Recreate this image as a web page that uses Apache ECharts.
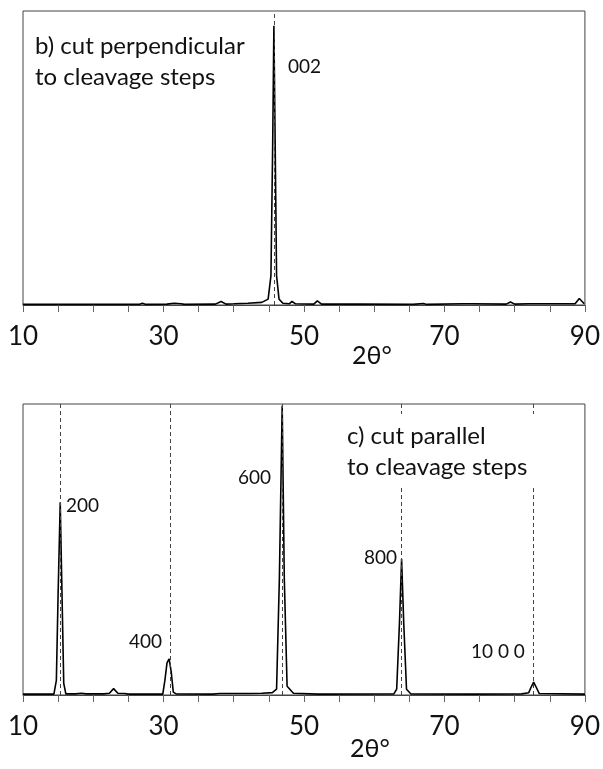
<!DOCTYPE html>
<html>
<head>
<meta charset="utf-8">
<script src="https://cdn.jsdelivr.net/npm/echarts@6/dist/echarts.min.js"></script>
<style>
  html, body { margin: 0; padding: 0; background: #fff; }
  #main { width: 603px; height: 769px; }
</style>
</head>
<body>
<div id="main"></div>
<script type="text/javascript">
// x axis ticks (2theta, degrees)
var xMin = 10;
var xMax = 90;
var tickStep = 5;
var labelStep = 20;

// b) cut perpendicular to cleavage steps  -> [2theta, relative intensity]
var topSpectrum = [
  [10, 0.002], [26.5, 0.002], [27, 0.006], [27.5, 0.002], [30.5, 0.003], [31.5, 0.006],
  [32.5, 0.004], [33, 0.002], [37.4, 0.003], [38.2, 0.012], [38.9, 0.003], [40, 0.004],
  [42, 0.006], [44, 0.009], [44.9, 0.02], [45.3, 0.1], [45.55, 0.55], [45.72, 0.95],
  [45.9, 0.55], [46.1, 0.1], [46.45, 0.02], [47, 0.006], [47.9, 0.004], [48.3, 0.012],
  [48.8, 0.004], [51.4, 0.003], [51.9, 0.014], [52.5, 0.003], [58, 0.003], [65.5, 0.002],
  [67, 0.005], [67.5, 0.002], [72.5, 0.004], [74, 0.004], [78.8, 0.003], [79.4, 0.01],
  [80, 0.003], [82, 0.004], [88.6, 0.004], [89.2, 0.022], [89.9, 0.004], [90, 0.004]
];
var topLines = [45.8];

// c) cut parallel to cleavage steps
var bottomSpectrum = [
  [10, 0.003], [14.4, 0.003], [14.75, 0.05], [15.0, 0.35], [15.3, 0.662], [15.55, 0.35],
  [15.8, 0.04], [16.1, 0.004], [17.5, 0.004], [18.3, 0.006], [19, 0.004], [21.5, 0.004],
  [22.3, 0.006], [22.9, 0.022], [23.5, 0.006], [24.5, 0.005], [25, 0.003], [29.9, 0.003],
  [30.2, 0.05], [30.5, 0.11], [30.8, 0.124], [31.1, 0.08], [31.4, 0.01], [31.8, 0.004],
  [37, 0.003], [38, 0.005], [42, 0.005], [44, 0.006], [45.5, 0.008], [46.1, 0.02],
  [46.5, 0.4], [46.9, 0.994], [47.2, 0.4], [47.6, 0.03], [48.5, 0.006], [52, 0.003],
  [62.8, 0.004], [63.2, 0.02], [63.6, 0.25], [63.9, 0.467], [64.2, 0.25], [64.6, 0.02],
  [65.2, 0.004], [74, 0.003], [81, 0.004], [82.0, 0.008], [82.4, 0.03], [82.7, 0.044],
  [83.0, 0.03], [83.5, 0.005], [90, 0.003]
];
var bottomLines = [15.3, 31.0, 46.9, 63.9, 82.7];

var fontName = 'Lato, "Open Sans", sans-serif';

function makeXAxis(gridIndex) {
  return {
    type: 'value',
    gridIndex: gridIndex,
    min: xMin,
    max: xMax,
    interval: tickStep,
    axisLine: { show: true, lineStyle: { color: '#444', width: 1 } },
    axisTick: { show: true, length: 7, lineStyle: { color: '#666', width: 1 } },
    splitLine: { show: false },
    axisLabel: {
      show: true,
      margin: 19,
      fontSize: 26,
      fontFamily: fontName,
      color: '#111',
      showMinLabel: true,
      showMaxLabel: true,
      formatter: function (v) {
        return (v - xMin) % labelStep === 0 ? String(v) : '';
      }
    }
  };
}

function makeYAxis(gridIndex) {
  return {
    type: 'value',
    gridIndex: gridIndex,
    min: 0,
    max: 1,
    show: false
  };
}

function makeSeries(idx, data, lines) {
  return {
    type: 'line',
    xAxisIndex: idx,
    yAxisIndex: idx,
    data: data,
    showSymbol: false,
    symbol: 'none',
    smooth: false,
    lineStyle: { color: '#000', width: 1.6 },
    silent: true,
    markLine: {
      silent: true,
      symbol: ['none', 'none'],
      label: { show: false },
      lineStyle: { type: [4, 3], color: '#444', width: 1 },
      data: lines.map(function (v) { return { xAxis: v }; })
    }
  };
}

var myChart = echarts.init(document.getElementById('main'), null, { renderer: 'canvas' });

var textStyle = { fill: '#111', fontFamily: fontName };

myChart.setOption({
  animation: false,
  backgroundColor: '#fff',
  grid: [
    { left: 23, right: 13, top: 11, height: 294, show: true, borderColor: '#444', borderWidth: 1 },
    { left: 23, right: 14, top: 404, height: 291, show: true, borderColor: '#444', borderWidth: 1 }
  ],
  xAxis: [makeXAxis(0), makeXAxis(1)],
  yAxis: [makeYAxis(0), makeYAxis(1)],
  series: [
    makeSeries(0, topSpectrum, topLines),
    makeSeries(1, bottomSpectrum, bottomLines)
  ],
  graphic: [
    // panel b
    { type: 'text', left: 35, top: 31, z: 100,
      style: Object.assign({ text: 'b) cut perpendicular\nto cleavage steps', fontSize: 24, lineHeight: 31 }, textStyle) },
    { type: 'text', left: 288, top: 57, z: 100,
      style: Object.assign({ text: '002', fontSize: 19 }, textStyle) },
    { type: 'text', left: 352, top: 343, z: 100,
      style: Object.assign({ text: '2θ°', fontSize: 25 }, textStyle) },
    // panel c
    { type: 'rect', z: 99, shape: { x: 340, y: 414, width: 206, height: 73 }, style: { fill: '#fff' } },
    { type: 'text', left: 347, top: 421, z: 100,
      style: Object.assign({ text: 'c) cut parallel\nto cleavage steps', fontSize: 24, lineHeight: 31 }, textStyle) },
    { type: 'text', left: 66, top: 496, z: 100,
      style: Object.assign({ text: '200', fontSize: 19 }, textStyle) },
    { type: 'text', left: 129, top: 632, z: 100,
      style: Object.assign({ text: '400', fontSize: 19 }, textStyle) },
    { type: 'text', left: 238, top: 468, z: 100,
      style: Object.assign({ text: '600', fontSize: 19 }, textStyle) },
    { type: 'text', left: 364, top: 548, z: 100,
      style: Object.assign({ text: '800', fontSize: 19 }, textStyle) },
    { type: 'text', left: 471, top: 642, z: 100,
      style: Object.assign({ text: '10 0 0', fontSize: 19 }, textStyle) },
    { type: 'text', left: 350, top: 736, z: 100,
      style: Object.assign({ text: '2θ°', fontSize: 25 }, textStyle) }
  ]
});
</script>
</body>
</html>
